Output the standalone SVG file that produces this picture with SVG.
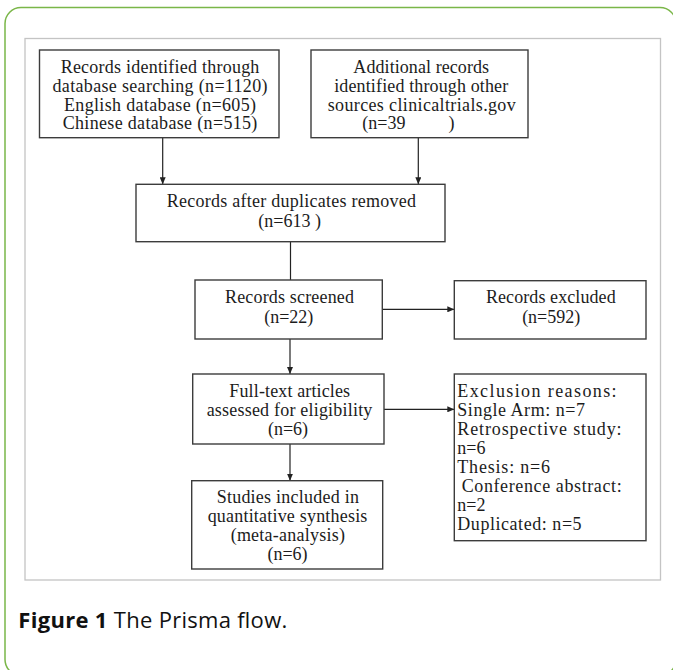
<svg xmlns="http://www.w3.org/2000/svg" width="673" height="670" viewBox="0 0 673 670">
<style>
.frame{fill:#fff;stroke:#7ab648;stroke-width:1.5}
.panel{fill:#fff;stroke:#c4c4c4;stroke-width:1.3}
.box{fill:#fff;stroke:#3c3c3c;stroke-width:1.4}
.t{font-family:"Liberation Serif","Times New Roman",serif;font-size:18px;fill:#1c1c1c;text-anchor:middle;white-space:pre}
.l{text-anchor:start}
.edge{stroke:#222;stroke-width:1.2;fill:none}
.cap{font-family:"Open Sans","Liberation Sans",sans-serif;font-size:22px;fill:#111}
</style>
<defs>
<marker id="ah" markerUnits="userSpaceOnUse" markerWidth="7" markerHeight="6" refX="7" refY="3" orient="auto">
<path d="M0,0 L7,3 L0,6 z" fill="#222"/>
</marker>
</defs>
<rect class="frame" x="5" y="7.5" width="671" height="668" rx="16"/>
<rect class="panel" x="25" y="38.5" width="635.5" height="541.5"/>

<g id="connectors">
<line class="edge" x1="162.7" y1="137.7" x2="162.7" y2="184.3" marker-end="url(#ah)"/>
<line class="edge" x1="418.3" y1="137.7" x2="418.3" y2="184.3" marker-end="url(#ah)"/>
<line class="edge" x1="290.5" y1="241.7" x2="290.5" y2="280"/>
<line class="edge" x1="382.3" y1="309.3" x2="454.3" y2="309.3" marker-end="url(#ah)"/>
<line class="edge" x1="290" y1="339" x2="290" y2="374" marker-end="url(#ah)"/>
<line class="edge" x1="384" y1="409.3" x2="454.3" y2="409.3" marker-end="url(#ah)"/>
<line class="edge" x1="290" y1="444" x2="290" y2="480.7" marker-end="url(#ah)"/>
</g>

<g id="n1">
<rect class="box" x="39.5" y="50" width="239.5" height="87.7"/>
<text class="t" x="160" y="72.7" textLength="198.7">Records identified through</text>
<text class="t" x="160" y="91.6" textLength="215">database searching (n=1120)</text>
<text class="t" x="160" y="110.5" textLength="192">English database (n=605)</text>
<text class="t" x="160" y="129.4" textLength="194.7">Chinese database (n=515)</text>
</g>

<g id="n2">
<rect class="box" x="311" y="50" width="217" height="87.7"/>
<text class="t" x="421.2" y="72.7" textLength="135.7">Additional records</text>
<text class="t" x="421.2" y="91.6" textLength="174">identified through other</text>
<text class="t" x="421.7" y="110.5" textLength="188">sources clinicaltrials.gov</text>
<text class="t l" x="362.3" y="129.4">(n=39   <tspan x="448.5">)</tspan></text>
</g>

<g id="n3">
<rect class="box" x="136" y="184.3" width="309" height="57.4"/>
<text class="t" x="291.3" y="207.3" textLength="249.3">Records after duplicates removed</text>
<text class="t l" x="258.3" y="226.7">(n=613 )</text>
</g>

<g id="n4">
<rect class="box" x="195" y="280" width="187.3" height="59"/>
<text class="t" x="289.5" y="303.3" textLength="129">Records screened</text>
<text class="t" x="288.8" y="322.7">(n=22)</text>
</g>

<g id="n5">
<rect class="box" x="454.3" y="280.7" width="191.7" height="58.3"/>
<text class="t" x="550.8" y="303.3" textLength="129.7">Records excluded</text>
<text class="t" x="551.2" y="322.7">(n=592)</text>
</g>

<g id="n6">
<rect class="box" x="192.7" y="374" width="191.3" height="70"/>
<text class="t" x="289.7" y="396.7" textLength="120.7">Full-text articles</text>
<text class="t" x="289.5" y="415.8" textLength="165.7">assessed for eligibility</text>
<text class="t" x="288" y="434.9">(n=6)</text>
</g>

<g id="n7">
<rect class="box" x="454.3" y="374" width="191.7" height="166.7"/>
<text class="t l" x="457.3" y="396.7" textLength="159.3">Exclusion reasons:</text>
<text class="t l" x="457.3" y="415.7" textLength="127.7">Single Arm: n=7</text>
<text class="t l" x="457.3" y="434.7" textLength="164.3">Retrospective study:</text>
<text class="t l" x="457.3" y="453.7">n=6</text>
<text class="t l" x="457.3" y="472.7" textLength="92.7">Thesis: n=6</text>
<text class="t l" x="461.7" y="491.7" textLength="160">Conference abstract:</text>
<text class="t l" x="457.3" y="510.7">n=2</text>
<text class="t l" x="457.3" y="529.7" textLength="124.3">Duplicated: n=5</text>
</g>

<g id="n8">
<rect class="box" x="191.7" y="480.7" width="191" height="88.3"/>
<text class="t" x="287.8" y="503.3" textLength="142.3">Studies included in</text>
<text class="t" x="287.5" y="522.3" textLength="159.7">quantitative synthesis</text>
<text class="t" x="287.8" y="541.3" textLength="114.3">(meta-analysis)</text>
<text class="t" x="287.5" y="560.3">(n=6)</text>
</g>

<text class="cap" x="18.3" y="628.3" textLength="269"><tspan font-weight="bold">Figure 1</tspan> The Prisma flow.</text>
</svg>
